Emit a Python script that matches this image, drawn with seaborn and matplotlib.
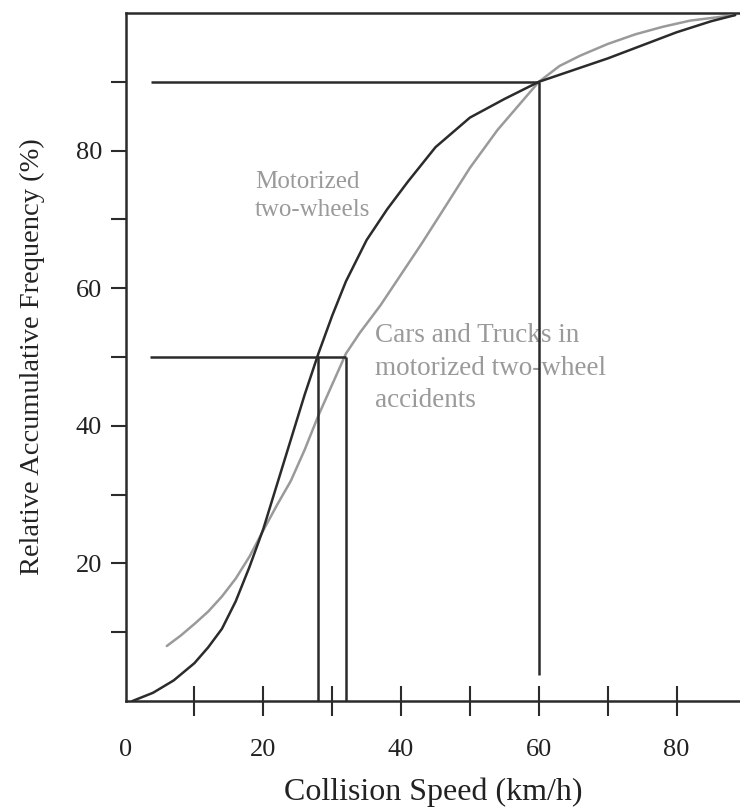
import matplotlib
matplotlib.use("Agg")
import matplotlib.pyplot as plt
import seaborn as sns
import pandas as pd

# --- data ---
speed_mtw = [1, 4, 7, 10, 12, 14, 16, 18, 20, 22, 24, 26, 28, 30, 32, 35, 38, 41, 45, 50, 55, 60, 65, 70, 75, 80, 85, 88.5]
freq_mtw = [0, 1.2, 3.0, 5.5, 7.8, 10.5, 14.5, 19.5, 25, 31.5, 38, 44.5, 50.5, 56, 61, 67, 71.5, 75.5, 80.5, 84.8, 87.5, 90, 91.7, 93.4, 95.3, 97.2, 98.8, 99.7]

speed_car = [6, 8, 10, 12, 14, 16, 18, 20, 22, 24, 26, 28, 30, 32, 34, 37, 40, 43, 46, 50, 54, 57, 60, 63, 66, 70, 74, 78, 82, 88.5]
freq_car = [8, 9.5, 11.2, 13, 15.2, 17.8, 21, 24.8, 28.5, 32, 36.5, 41.5, 46, 50.5, 53.5, 57.5, 62, 66.5, 71.2, 77.5, 83, 86.5, 90, 92.3, 93.8, 95.5, 96.9, 98, 98.9, 99.7]

median_mtw = 28
median_car = 32
pct90_speed = 60
levels = [50, 90]

x_ticks = [0, 10, 20, 30, 40, 50, 60, 70, 80]
x_labels = ["0", "", "20", "", "40", "", "60", "", "80"]
y_ticks = [10, 20, 30, 40, 50, 60, 70, 80, 90]
y_labels = ["", "20", "", "40", "", "60", "", "80", ""]

df_mtw = pd.DataFrame({"speed": speed_mtw, "freq": freq_mtw})
df_car = pd.DataFrame({"speed": speed_car, "freq": freq_car})

sns.set_style("white")
plt.rcParams["font.family"] = ["Liberation Serif", "DejaVu Serif"]

fig = plt.figure(figsize=(7.4, 8.08), dpi=100)
ax = fig.add_axes([0.1696, 0.1324, 0.8304, 0.8515])

dark = "#2b2b2b"
light = "#9a9a9a"

sns.lineplot(data=df_car, x="speed", y="freq", ax=ax, color=light, lw=1.8, zorder=3,
             solid_joinstyle="round")
sns.lineplot(data=df_mtw, x="speed", y="freq", ax=ax, color=dark, lw=1.8, zorder=3,
             solid_joinstyle="round")

# guide lines
ax.hlines(levels[1], 3.7, pct90_speed, color=dark, lw=1.8, zorder=4)
ax.vlines(pct90_speed, 3.8, levels[1], color=dark, lw=1.8, zorder=4)
ax.hlines(levels[0], 3.6, median_car, color=dark, lw=1.8, zorder=4)
ax.vlines(median_mtw, 0, levels[0], color=dark, lw=1.8, zorder=4)
ax.vlines(median_car, 0, levels[0], color=dark, lw=1.8, zorder=4)

ax.set_xlim(0, 89.2)
ax.set_ylim(0, 100)

ax.set_xticks(x_ticks)
ax.set_xticklabels(x_labels)
ax.set_yticks(y_ticks)
ax.set_yticklabels(y_labels)

ax.tick_params(axis="x", direction="inout", length=22, width=1.5, color=dark,
               labelsize=19, pad=16, labelcolor="#222222", bottom=True)
ax.tick_params(axis="y", direction="out", length=11, width=1.5, color=dark,
               labelsize=19, pad=6, labelcolor="#222222", left=True)
ax.xaxis.get_major_ticks()[0].tick1line.set_visible(False)

for side in ["left", "bottom", "top"]:
    ax.spines[side].set_visible(True)
    ax.spines[side].set_color(dark)
    ax.spines[side].set_linewidth(1.8)
ax.spines["right"].set_visible(False)

ax.set_xlabel("Collision Speed (km/h)", fontsize=23, color="#222222", labelpad=12)
ax.set_ylabel("Relative Accumulative Frequency (%)", fontsize=20.5, color="#222222", labelpad=22)

ax.text(18.8, 73.4, "Motorized\ntwo-wheels", fontsize=18, color=light,
        va="center", ha="left", linespacing=1.35, zorder=2)
ax.text(36.2, 48.4, "Cars and Trucks in\nmotorized two-wheel\naccidents", fontsize=19.5,
        color=light, va="center", ha="left", linespacing=1.4, zorder=2)

fig.savefig("out.png", dpi=100)
